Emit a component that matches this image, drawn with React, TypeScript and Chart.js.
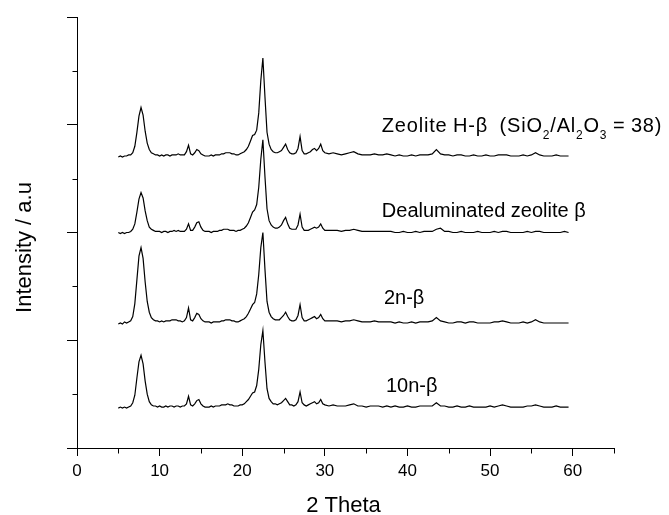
import { useEffect, useRef } from 'react';
import { Chart, registerables } from 'chart.js';

Chart.register(...registerables);

// 2θ positions (degrees)
const twoTheta = [
  5.0, 5.25, 5.5, 5.75, 6.0, 6.25, 6.5, 6.75, 7.0, 7.25, 7.5, 7.75, 8.0, 8.25, 8.5, 8.75, 9.0, 9.25, 9.5, 9.75,
  10.0, 10.25, 10.5, 10.75, 11.0, 11.25, 11.5, 11.75, 12.0, 12.25, 12.5, 12.75, 13.0, 13.25, 13.5, 13.75, 14.0, 14.25, 14.5, 14.75,
  15.0, 15.25, 15.5, 15.75, 16.0, 16.25, 16.5, 16.75, 17.0, 17.25, 17.5, 17.75, 18.0, 18.25, 18.5, 18.75, 19.0, 19.25, 19.5, 19.75,
  20.0, 20.25, 20.5, 20.75, 21.0, 21.25, 21.5, 21.75, 22.0, 22.25, 22.5, 22.75, 23.0, 23.25, 23.5, 23.75, 24.0, 24.25, 24.5, 24.75,
  25.0, 25.25, 25.5, 25.75, 26.0, 26.25, 26.5, 26.75, 27.0, 27.25, 27.5, 27.75, 28.0, 28.25, 28.5, 28.75, 29.0, 29.25, 29.5, 29.75, 30.0,
  30.5, 31.0, 31.5, 32.0, 32.5, 33.0, 33.5, 34.0, 34.5, 35.0, 35.5, 36.0, 36.5, 37.0, 37.5, 38.0, 38.5, 39.0, 39.5,
  40.0, 40.5, 41.0, 41.5, 42.0, 42.5, 43.0, 43.5, 44.0, 44.5, 45.0, 45.5, 46.0, 46.5, 47.0, 47.5, 48.0, 48.5, 49.0, 49.5,
  50.0, 50.5, 51.0, 51.5, 52.0, 52.5, 53.0, 53.5, 54.0, 54.5, 55.0, 55.5, 56.0, 56.5, 57.0, 57.5, 58.0, 58.5, 59.0, 59.5,
];

// Intensities above each pattern's own baseline (a.u.)
const zeoliteHBeta = [
  -1, 0, -1, 0, 0, 1, 1, 3, 9, 22, 37, 45, 38, 23, 12, 6, 3, 2, 1, 1,
  0, 1, 0, 1, 1, 0, 1, 1, 1, 2, 1, 1, 1, 4, 10, 2, 1, 3, 6, 5,
  2, 1, 0, 0, 0, 1, 0, 1, 1, 1, 2, 2, 3, 3, 3, 2, 2, 1, 1, 2,
  3, 4, 6, 9, 14, 19, 20, 24, 40, 70, 91, 55, 22, 11, 6, 4, 3, 3, 4, 5,
  8, 11, 6, 3, 2, 2, 3, 7, 18, 5, 2, 2, 3, 4, 6, 7, 5, 7, 11, 5, 3,
  2, 3, 2, 1, 2, 3, 4, 2, 1, 1, 1, 2, 1, 1, 2, 1, 0, 1, 0,
  0, 1, 0, 1, 1, 1, 2, 6, 2, 1, 1, 0, 1, 1, 0, 0, 1, 0, 0, 1,
  0, 0, 1, 1, 1, 0, 0, 0, 1, 0, 1, 3, 1, 0, 0, 0, 1, 0, 0, 0,
];

const dealuminatedBeta = [
  0, -1, 0, -1, 0, 0, 1, 3, 8, 19, 31, 37, 32, 20, 11, 5, 3, 2, 1, 1,
  1, 0, 1, 1, 0, 1, 1, 2, 1, 2, 1, 1, 1, 3, 8, 2, 2, 5, 9, 10,
  5, 2, 1, 1, 1, 0, 1, 1, 1, 2, 2, 3, 3, 3, 2, 2, 2, 1, 2, 2,
  3, 4, 6, 9, 14, 19, 21, 26, 42, 68, 86, 52, 22, 11, 7, 5, 4, 4, 5, 7,
  11, 14, 8, 4, 3, 3, 3, 7, 17, 5, 2, 2, 2, 3, 4, 5, 4, 5, 8, 4, 2,
  2, 2, 2, 1, 2, 2, 3, 2, 1, 1, 1, 1, 1, 1, 1, 1, 0, 0, 1,
  0, 0, 1, 0, 1, 1, 1, 3, 4, 1, 1, 0, 0, 1, 0, 0, 0, 1, 0, 0,
  0, 1, 0, 1, 1, 0, 0, 0, 0, 1, 0, 1, 1, 0, 0, 0, 0, 0, 1, 0,
];

const beta2n = [
  -1, 0, -1, 1, 0, 1, 2, 6, 18, 40, 62, 70, 60, 38, 20, 10, 5, 3, 2, 2,
  1, 2, 1, 2, 2, 2, 3, 3, 3, 2, 2, 1, 2, 5, 14, 3, 2, 5, 9, 8,
  4, 2, 1, 1, 1, 0, 1, 1, 1, 1, 2, 2, 3, 3, 3, 2, 2, 1, 1, 2,
  3, 4, 6, 9, 13, 17, 19, 27, 45, 70, 84, 50, 20, 10, 6, 4, 3, 3, 3, 5,
  7, 10, 6, 3, 2, 2, 3, 7, 17, 5, 2, 2, 3, 4, 5, 6, 4, 5, 8, 4, 2,
  2, 2, 2, 1, 2, 2, 3, 2, 1, 1, 1, 2, 1, 1, 1, 1, 0, 1, 0,
  0, 1, 0, 1, 1, 1, 2, 5, 2, 1, 0, 0, 1, 1, 0, 1, 1, 0, 0, 0,
  0, 1, 1, 2, 1, 0, 0, 0, 1, 0, 1, 3, 1, 0, 0, 0, 0, 0, 0, 0,
];

const beta10n = [
  -1, 0, -1, 0, -1, 0, 1, 4, 11, 27, 42, 48, 40, 24, 12, 5, 2, 1, 1, 0,
  1, 0, 0, 1, 0, 1, 1, 0, 1, 1, 0, 1, 1, 3, 10, 2, 1, 3, 6, 7,
  3, 1, 0, 0, 0, 1, 0, 1, 1, 1, 2, 2, 2, 3, 2, 2, 1, 1, 1, 2,
  2, 3, 5, 7, 10, 13, 14, 20, 35, 58, 71, 42, 17, 8, 5, 3, 3, 2, 3, 4,
  6, 8, 5, 2, 2, 1, 2, 5, 14, 4, 2, 1, 2, 3, 4, 5, 3, 4, 7, 3, 2,
  1, 2, 1, 1, 1, 2, 3, 1, 1, 0, 1, 1, 1, 0, 1, 0, 1, 0, 0,
  1, 0, 0, 1, 1, 1, 1, 4, 1, 1, 0, 0, 1, 0, 0, 1, 0, 0, 0, 0,
  1, 0, 1, 2, 1, 0, 0, 0, 0, 1, 1, 2, 1, 0, 0, 0, 1, 0, 0, 0,
];

const seriesNames = ['Zeolite H-β (SiO2/Al2O3 = 38)', 'Dealuminated zeolite β', '2n-β', '10n-β'];
const seriesValues = [zeoliteHBeta, dealuminatedBeta, beta2n, beta10n];
const seriesOffsets = [271, 200, 116, 38];

// label text pieces: [text, isSubscript]
const labelParts: [string, boolean][][] = [
  [['Zeolite H-β (SiO', false], ['2', true], ['/Al', false], ['2', true], ['O', false], ['3', true], [' = 38)', false]],
  [['Dealuminated zeolite β', false]],
  [['2n-β', false]],
  [['10n-β', false]],
];
const labelAtX = [36.9, 36.9, 37.15, 37.4];
const labelAtY = [293, 214, 134, 52];
const labelSpaceExtra = [[0, 6, 0, 0], [0, 0], [], []];
const labelLetterSpacing = [0.8, 0, 0, 0];

const xTitle = '2 Theta';
const yTitle = 'Intensity / a.u';
const xMinorTicks = [5, 15, 25, 35, 45, 55, 65];
const yMinorTicks = [50, 150, 250, 350];

const FONT = '"Liberation Sans", Arial, Helvetica, sans-serif';

const decorPlugin = {
  id: 'decor',
  afterDraw(chart: any) {
    const ctx = chart.ctx;
    const xs = chart.scales.x;
    const ys = chart.scales.y;
    ctx.save();
    ctx.strokeStyle = '#000';
    ctx.lineWidth = 1;
    // minor ticks
    ctx.beginPath();
    xMinorTicks.forEach((v) => {
      const px = Math.round(xs.getPixelForValue(v)) + 0.5;
      const y0 = Math.round(xs.top) + 0.5;
      ctx.moveTo(px, y0);
      ctx.lineTo(px, y0 + 5);
    });
    yMinorTicks.forEach((v) => {
      const py = Math.round(ys.getPixelForValue(v)) + 0.5;
      const x0 = Math.round(ys.right) + 0.5;
      ctx.moveTo(x0, py);
      ctx.lineTo(x0 - 5, py);
    });
    ctx.stroke();

    // series labels
    ctx.fillStyle = '#000';
    ctx.textBaseline = 'alphabetic';
    ctx.textAlign = 'left';
    labelParts.forEach((parts, i) => {
      let x = xs.getPixelForValue(labelAtX[i]);
      const y = ys.getPixelForValue(labelAtY[i]);
      let spaceIdx = 0;
      const ls = labelLetterSpacing[i];
      parts.forEach(([t, sub]) => {
        ctx.font = sub ? `12px ${FONT}` : `20px ${FONT}`;
        const words = t.split(' ');
        words.forEach((w, k) => {
          if (w.length) {
            for (const ch of w) {
              ctx.fillText(ch, x, sub ? y + 7 : y);
              x += ctx.measureText(ch).width + ls;
            }
          }
          if (k < words.length - 1) {
            x += ctx.measureText(' ').width + (labelSpaceExtra[i][spaceIdx] || 0);
            spaceIdx += 1;
          }
        });
      });
    });

    // axis titles
    ctx.font = `22px ${FONT}`;
    ctx.textAlign = 'center';
    ctx.fillText(xTitle, (xs.left + xs.right) / 2 - 2, 512);
    ctx.translate(31, 247.5);
    ctx.rotate(-Math.PI / 2);
    ctx.fillText(yTitle, 0, 0);
    ctx.restore();
  },
};

export default function App() {
  const ref = useRef<HTMLCanvasElement>(null);
  useEffect(() => {
    if (!ref.current) return;
    Chart.defaults.font.family = FONT;
    Chart.defaults.color = '#000';
    const chart = new Chart(ref.current, {
      type: 'line',
      data: {
        datasets: seriesValues.map((vals, i) => ({
          label: seriesNames[i],
          data: vals.map((v, j) => ({ x: twoTheta[j], y: seriesOffsets[i] + v })),
          borderColor: '#000',
          borderWidth: 1.2,
          pointRadius: 0,
          tension: 0,
          fill: false,
        })),
      },
      options: {
        responsive: false,
        animation: false,
        layout: { padding: { top: 17, right: 55, left: 0, bottom: 0 } },
        plugins: { legend: { display: false }, tooltip: { enabled: false } },
        scales: {
          x: {
            type: 'linear',
            min: 0,
            max: 65,
            border: { display: true, color: '#000', width: 1 },
            grid: { drawOnChartArea: false, tickLength: 8, color: '#000', tickColor: '#000' },
            ticks: { stepSize: 10, includeBounds: false, font: { size: 17 }, padding: 5, maxRotation: 0, color: '#000' },
            afterFit: (s: any) => { s.height = 67; },
          },
          y: {
            type: 'linear',
            min: 0,
            max: 400,
            border: { display: true, color: '#000', width: 1 },
            grid: { drawOnChartArea: false, tickLength: 10, color: '#000', tickColor: '#000' },
            ticks: { stepSize: 100, display: false },
            afterFit: (s: any) => { s.width = 77; },
          },
        },
      },
      plugins: [decorPlugin],
    });
    return () => chart.destroy();
  }, []);
  return (
    <div style={{ position: 'absolute', left: 0, top: 0, width: 669, height: 515, background: '#fff' }}>
      <canvas ref={ref} width={669} height={515} />
    </div>
  );
}
